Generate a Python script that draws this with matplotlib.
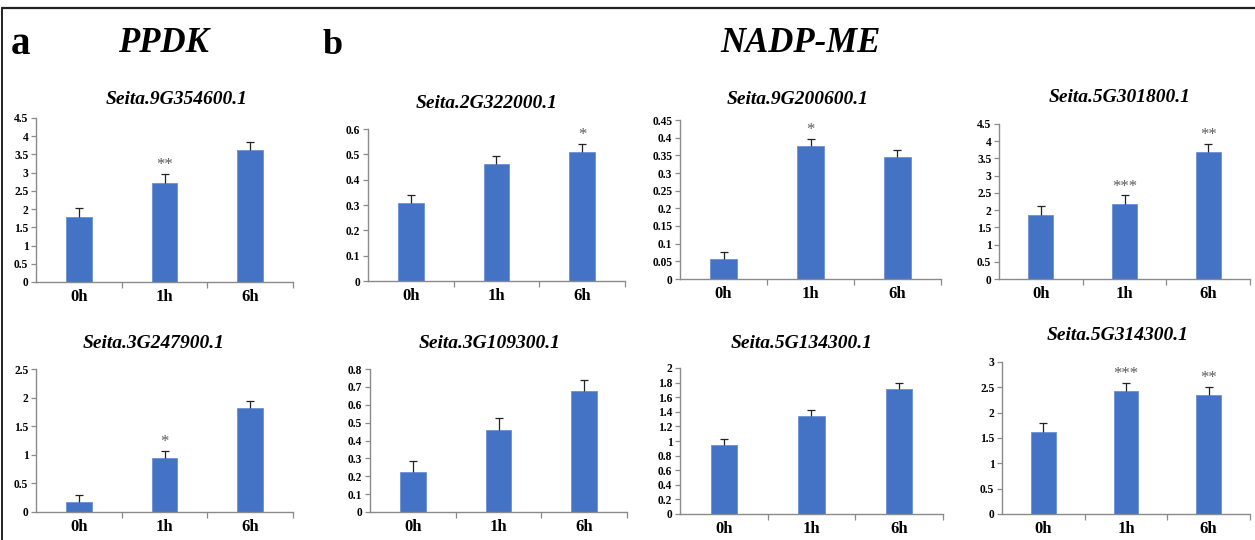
import matplotlib
matplotlib.use("Agg")
import matplotlib.pyplot as plt
from matplotlib.lines import Line2D

plt.rcParams['font.family'] = ['Liberation Serif', 'DejaVu Serif']

categories = ["0h", "1h", "6h"]

titles = ["Seita.9G354600.1", "Seita.2G322000.1", "Seita.9G200600.1", "Seita.5G301800.1",
          "Seita.3G247900.1", "Seita.3G109300.1", "Seita.5G134300.1", "Seita.5G314300.1"]

means = [
    [1.79, 2.73, 3.62],
    [0.309, 0.460, 0.509],
    [0.0575, 0.376, 0.344],
    [1.86, 2.18, 3.69],
    [0.174, 0.936, 1.81],
    [0.224, 0.461, 0.675],
    [0.947, 1.336, 1.716],
    [1.62, 2.42, 2.34],
]
upper = [
    [2.02, 2.97, 3.85],
    [0.340, 0.492, 0.541],
    [0.077, 0.397, 0.365],
    [2.11, 2.43, 3.93],
    [0.30, 1.07, 1.94],
    [0.287, 0.526, 0.739],
    [1.025, 1.423, 1.80],
    [1.80, 2.59, 2.51],
]
stars = [
    ["", "**", ""],
    ["", "", "*"],
    ["", "*", ""],
    ["", "***", "**"],
    ["", "*", ""],
    ["", "", ""],
    ["", "", ""],
    ["", "***", "**"],
]
yticks = [
    [0, 0.5, 1, 1.5, 2, 2.5, 3, 3.5, 4, 4.5],
    [0, 0.1, 0.2, 0.3, 0.4, 0.5, 0.6],
    [0, 0.05, 0.1, 0.15, 0.2, 0.25, 0.3, 0.35, 0.4, 0.45],
    [0, 0.5, 1, 1.5, 2, 2.5, 3, 3.5, 4, 4.5],
    [0, 0.5, 1, 1.5, 2, 2.5],
    [0, 0.1, 0.2, 0.3, 0.4, 0.5, 0.6, 0.7, 0.8],
    [0, 0.2, 0.4, 0.6, 0.8, 1, 1.2, 1.4, 1.6, 1.8, 2],
    [0, 0.5, 1, 1.5, 2, 2.5, 3],
]

W, H = 1255, 540
# axes boxes in pixels: left, right, top, bottom
boxes = [
    (36, 293, 118, 282), (368, 625, 129, 281), (680, 941, 120, 279), (999, 1250, 124, 279),
    (36, 293, 369, 512), (370, 627, 369, 512), (680, 943, 368, 514), (1002, 1250, 362, 514),
]
title_pos = [(177, 100), (487, 103), (798, 100), (1120, 98),
             (154, 343), (490, 343), (802, 343), (1118, 335)]

fig = plt.figure(figsize=(W / 100, H / 100), dpi=100)
bar_color = "#4472C4"
axis_color = "#8a8a8a"

for i in range(8):
    l, r, t, b = boxes[i]
    ax = fig.add_axes([l / W, 1 - b / H, (r - l) / W, (b - t) / H])
    x = list(range(len(categories)))
    ax.bar(x, means[i], width=0.30, color=bar_color, edgecolor="#6a90d4", linewidth=0.6, zorder=2)
    err = [u - m for u, m in zip(upper[i], means[i])]
    eb = ax.errorbar(x, means[i], yerr=[[0] * 3, err], fmt="none", ecolor="#222222",
                     elinewidth=0.9, capsize=2.6, capthick=0.9, zorder=3)
    caps = eb[1]
    if len(caps) >= 1:
        caps[0].set_visible(False)
    for xi, s, u in zip(x, stars[i], upper[i]):
        if s:
            ax.annotate(s, (xi, u), xytext=(0, 0.5), textcoords="offset points",
                        ha="center", va="bottom", fontsize=12, color="#5a5a5a")
    ax.set_xlim(-0.5, 2.5)
    ax.set_ylim(0, yticks[i][-1])
    ax.set_yticks(yticks[i])
    ax.set_yticklabels([f"{v:g}" for v in yticks[i]], fontsize=8.3, fontweight="bold")
    ax.set_xticks(x)
    ax.set_xticklabels(categories, fontsize=12, fontweight="bold")
    ax.set_xticks([0.5, 1.5, 2.5], minor=True)
    ax.tick_params(axis="x", which="major", length=0, pad=5)
    ax.tick_params(axis="x", which="minor", length=4, color=axis_color, width=0.9, direction="out")
    ax.tick_params(axis="y", length=3.5, color=axis_color, width=0.9, pad=2)
    for sp in ["top", "right"]:
        ax.spines[sp].set_visible(False)
    for sp in ["left", "bottom"]:
        ax.spines[sp].set_color(axis_color)
        ax.spines[sp].set_linewidth(1.0)
    tx, ty = title_pos[i]
    fig.text(tx / W, 1 - ty / H, titles[i], ha="center", va="center",
             fontsize=14, fontweight="bold", fontstyle="italic")

fig.text(21 / W, 1 - 44 / H, "a", ha="center", va="center", fontsize=28, fontweight="bold")
fig.text(163 / W, 1 - 43 / H, "PPDK", ha="center", va="center", fontsize=25,
         fontweight="bold", fontstyle="italic")
fig.text(333 / W, 1 - 45 / H, "b", ha="center", va="center", fontsize=26, fontweight="bold")
fig.text(800 / W, 1 - 43 / H, "NADP-ME", ha="center", va="center", fontsize=25,
         fontweight="bold", fontstyle="italic")

# frame lines
fig.add_artist(Line2D([0.002, 1.0], [1 - 8 / H, 1 - 8 / H], color="#222222", lw=1.6,
                      transform=fig.transFigure))
fig.add_artist(Line2D([0.0015, 0.0015], [0, 1 - 8 / H], color="#222222", lw=1.4,
                      transform=fig.transFigure))

fig.savefig("out.png", dpi=100)
